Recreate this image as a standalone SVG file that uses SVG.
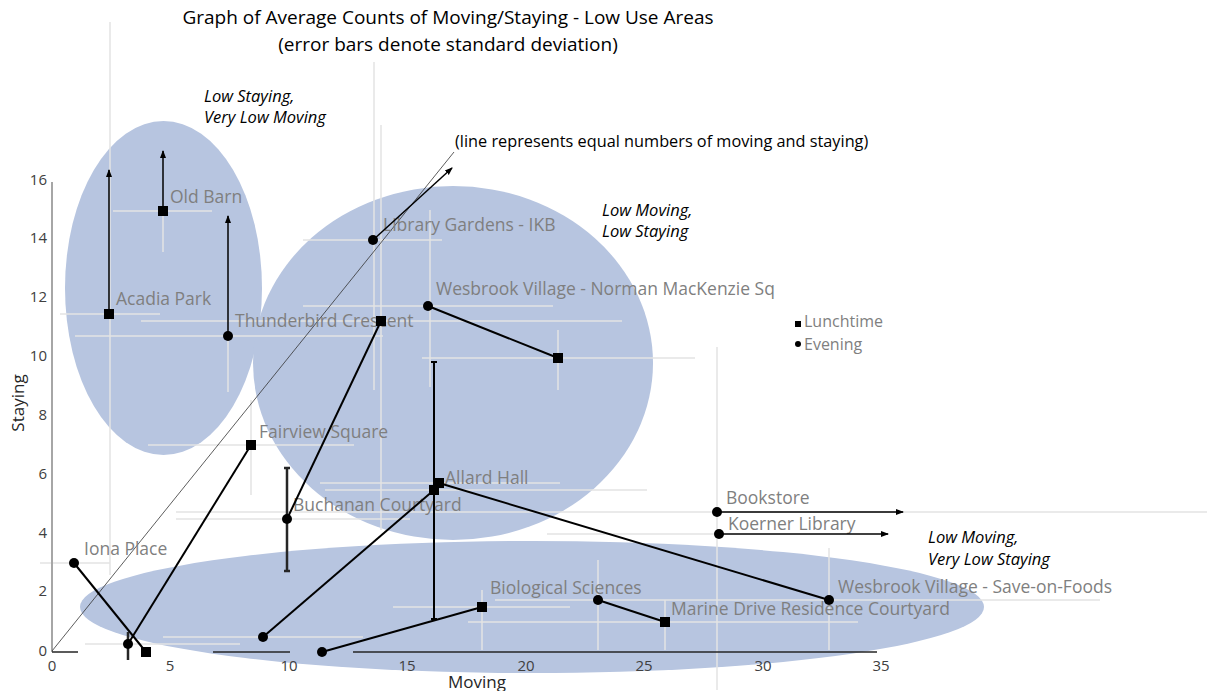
<svg xmlns="http://www.w3.org/2000/svg" width="1207" height="691" viewBox="0 0 1207 691">
<defs>
<style>
.ell{fill:#b7c5e0}
.err{stroke:#e3e3e3;stroke-width:1.5;fill:none}
.ln{stroke:#000;stroke-width:2;fill:none}
.arr{stroke:#000;stroke-width:1.5;fill:none;marker-end:url(#ah)}
.bar{stroke:#262626;stroke-width:2.5;fill:none}
.lbl{font-family:"Open Sans","DejaVu Sans",sans-serif;font-size:17.5px;fill:#7f7f7f}
.leg{font-family:"Open Sans","DejaVu Sans",sans-serif;font-size:16px;fill:#7f7f7f}
.ann{font-family:"Open Sans","DejaVu Sans",sans-serif;font-size:16.5px;font-style:italic;fill:#000}
.ttl{font-family:"Open Sans","DejaVu Sans",sans-serif;font-size:19px;fill:#000}
.tick{font-family:"Open Sans","DejaVu Sans",sans-serif;font-size:15px;fill:#404040}
.axl{font-family:"Open Sans","DejaVu Sans",sans-serif;font-size:17px;fill:#262626}
.sq{fill:#000}
</style>
<marker id="ah" markerWidth="8" markerHeight="8" refX="7" refY="4" orient="auto" markerUnits="userSpaceOnUse">
<path d="M0,1 L8,4 L0,7 Z" fill="#000"/>
</marker>
</defs>
<rect width="1207" height="691" fill="#fff"/>

<g id="regions">
<ellipse class="ell" cx="163.5" cy="288" rx="98.5" ry="167"/>
<ellipse class="ell" cx="453" cy="363" rx="200" ry="177"/>
<ellipse class="ell" cx="532" cy="607" rx="452" ry="66"/>
</g>

<g id="error-bars-light">
<path class="err" d="M110,22V575 M163,211V252 M228,336V392 M374,62V390 M381,125V530 M251,400V495 M430,210V387 M558,330V390 M717,347V690 M829,548V650 M665,600V650 M598,560V650 M482,590V650"/>
<path class="err" d="M113,211H212 M60,314H160 M141,321H622 M75,336H383 M303,240H442 M303,306H553 M422,358H695 M148,445H354 M320,483H560 M325,490H647 M176,512H1207 M176,519H410 M547,534H717 M40,563H110 M495,600H1100 M393,607H570 M468,622H858 M163,637H363 M85,644H240"/>
</g>

<g id="axes">
<line x1="52" y1="182" x2="52" y2="652" stroke="#a6a6a6" stroke-width="2"/>
<path d="M52,652H78 M213,652H290 M353,652H877" stroke="#262626" stroke-width="1.5" fill="none"/>
<g class="tick" text-anchor="end">
<text x="47" y="656">0</text><text x="47" y="596">2</text><text x="47" y="538">4</text><text x="47" y="479">6</text><text x="47" y="420">8</text><text x="47" y="361">10</text><text x="47" y="302">12</text><text x="47" y="243">14</text><text x="47" y="185">16</text>
</g>
<g class="tick" text-anchor="middle">
<text x="52" y="671">0</text><text x="170" y="671">5</text><text x="289" y="671">10</text><text x="407" y="671">15</text><text x="526" y="671">20</text><text x="644" y="671">25</text><text x="763" y="671">30</text><text x="881" y="671">35</text>
</g>
<text class="axl" x="477" y="688" text-anchor="middle">Moving</text>
<text class="axl" transform="translate(24,403) rotate(-90)" text-anchor="middle">Staying</text>
</g>

<g id="title">
<text class="ttl" x="448" y="24" text-anchor="middle">Graph of Average Counts of Moving/Staying - Low Use Areas</text>
<text class="ttl" x="448" y="51" text-anchor="middle">(error bars denote standard deviation)</text>
</g>

<g id="equal-line">
<line x1="52" y1="651" x2="454" y2="152" stroke="#333" stroke-width="0.8"/>
<text x="455" y="147" font-family="'Open Sans','DejaVu Sans',sans-serif" font-size="16.3" fill="#000">(line represents equal numbers of moving and staying)</text>
</g>

<g id="annotations">
<text class="ann" x="204" y="102">Low Staying,</text>
<text class="ann" x="204" y="123">Very Low Moving</text>
<text class="ann" x="602" y="216">Low Moving,</text>
<text class="ann" x="602" y="237">Low Staying</text>
<text class="ann" x="928" y="543">Low Moving,</text>
<text class="ann" x="928" y="565">Very Low Staying</text>
</g>

<g id="labels">
<text class="lbl" x="170" y="203">Old Barn</text>
<text class="lbl" x="116" y="305">Acadia Park</text>
<text class="lbl" x="235" y="327">Thunderbird Crescent</text>
<text class="lbl" x="383" y="231">Library Gardens - IKB</text>
<text class="lbl" x="436" y="295">Wesbrook Village - Norman MacKenzie Sq</text>
<text class="lbl" x="259" y="438">Fairview Square</text>
<text class="lbl" x="445" y="484">Allard Hall</text>
<text class="lbl" x="293" y="511">Buchanan Courtyard</text>
<text class="lbl" x="84" y="555">Iona Place</text>
<text class="lbl" x="490" y="594">Biological Sciences</text>
<text class="lbl" x="671" y="615">Marine Drive Residence Courtyard</text>
<text class="lbl" x="838" y="593">Wesbrook Village - Save-on-Foods</text>
<text class="lbl" x="726" y="504">Bookstore</text>
<text class="lbl" x="728" y="530">Koerner Library</text>
</g>

<g id="legend">
<rect x="795" y="321" width="6" height="6"/>
<text class="leg" x="804" y="327">Lunchtime</text>
<circle cx="798" cy="344" r="3"/>
<text class="leg" x="804" y="349.5">Evening</text>
</g>

<g id="connectors">
<path class="arr" d="M109,314V170"/>
<path class="arr" d="M163,211V151"/>
<path class="arr" d="M228,336V216"/>
<path class="arr" d="M373,240L452,168"/>
<path class="arr" d="M717,512H903"/>
<path class="arr" d="M719,534H888"/>
<path class="ln" d="M381,321L287,519"/>
<path class="ln" d="M251,445L128,644"/>
<path class="ln" d="M74,563L146,652"/>
<path class="ln" d="M428,306L558,358"/>
<path class="ln" d="M439,483L829,600"/>
<path class="ln" d="M434,490L263,637"/>
<path class="ln" d="M322,652L482,607"/>
<path class="ln" d="M598,600L665,622"/>
<path class="bar" d="M287,468V571 M284,468H290 M284,571H290"/>
<path d="M434,362V619 M431,362H437 M431,619H437" stroke="#000" stroke-width="2" fill="none"/>
<path class="bar" d="M128,632V660"/>
</g>

<g id="markers">
<rect class="sq" x="104" y="309" width="10" height="10"/>
<rect class="sq" x="158" y="206" width="10" height="10"/>
<rect class="sq" x="376" y="316" width="10" height="10"/>
<rect class="sq" x="246" y="440" width="10" height="10"/>
<rect class="sq" x="141" y="647" width="10" height="10"/>
<rect class="sq" x="553" y="353" width="10" height="10"/>
<rect class="sq" x="434" y="478" width="10" height="10"/>
<rect class="sq" x="429" y="485" width="10" height="10"/>
<rect class="sq" x="477" y="602" width="10" height="10"/>
<rect class="sq" x="660" y="617" width="10" height="10"/>
<circle cx="228" cy="336" r="5"/>
<circle cx="373" cy="240" r="5"/>
<circle cx="428" cy="306" r="5"/>
<circle cx="287" cy="519" r="5"/>
<circle cx="128" cy="644" r="5"/>
<circle cx="74" cy="563" r="5"/>
<circle cx="263" cy="637" r="5"/>
<circle cx="322" cy="652" r="5"/>
<circle cx="598" cy="600" r="5"/>
<circle cx="829" cy="600" r="5"/>
<circle cx="717" cy="512" r="5"/>
<circle cx="719" cy="534" r="5"/>
</g>
</svg>
